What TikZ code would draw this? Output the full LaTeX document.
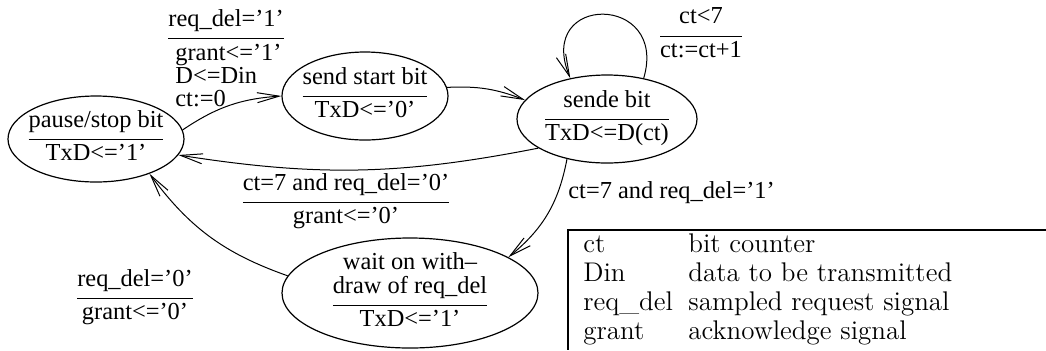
\documentclass[tikz,border=0pt]{standalone}
\usepackage{fontspec}
\newfontfamily\figfont{Liberation Serif}
\usetikzlibrary{shapes.geometric,arrows.meta}
\tikzset{
  state/.style={
    ellipse,
    draw,
    line width=0.6pt,
    inner sep=-4pt,
    font=\figfont\fontsize{12.2}{11.5}\selectfont
  },
  trans/.style={
    ->,
    >={Straight Barb[length=11pt,width=5pt]},
    line width=0.5pt
  },
  cond/.style={
    inner sep=0pt,
    font=\figfont\fontsize{12.2}{11.5}\selectfont
  },
}
% condition over action, split by a rule
\newcommand{\ioline}[2]{\begin{tabular}{@{}c@{}}#1\\[2.5pt]\hline\rule{0pt}{10.5pt}#2\end{tabular}}

\begin{document}
\begin{tikzpicture}[x=0.5pt,y=-0.5pt]
\useasboundingbox (0,0) rectangle (1046,350);

% states
\node[state, minimum width=88pt, minimum height=43pt] (pause) at (96,139) {\ioline{pause/stop bit}{TxD<=’1’}};
\node[state, minimum width=83pt, minimum height=44pt] (start) at (365,96) {\ioline{send start bit}{TxD<=’0’}};
\node[state, minimum width=90pt, minimum height=44pt] (send) at (607,119) {\ioline{sende bit}{TxD<=D(ct)}};
\node[state, minimum width=128pt, minimum height=55pt] (wait) at (410,293) {\ioline{wait on with–\\draw of req\_del}{TxD<=’1’}};

% transitions
\draw[trans] (pause.6) to[bend left=15] (start.180);
\draw[trans] (start.6) to[bend left=12] (send.167);
\draw[trans] (send.48) .. controls +(25,-85) and +(-35,-85) .. (send.132);
\draw[trans] (send.203) to[bend left=10] (pause.-11);
\draw[trans] (send.225) to[bend left=20] (wait.20);
\draw[trans] (wait.172) to[bend left=17] (pause.-33);

% transition labels
\node[cond, anchor=north west] (startcond) at (168,9) {%
  \begin{tabular}{@{\hspace{3.5pt}}l@{}}
    \multicolumn{1}{@{}c@{}}{req\_del=’1’}\\[2.5pt]\hline
    \rule{0pt}{10.5pt}grant<=’1’\\
    D<=Din\\
    ct:=0
  \end{tabular}};
\node[cond] (loopcond) at (701,36) {\ioline{ct<7}{ct:=ct+1}};
\node[cond] (backcond) at (346,202) {\ioline{ct=7 and req\_del=’0’}{grant<=’0’}};
\node[cond, anchor=west] (waitcond) at (568,193) {ct=7 and req\_del=’1’};
\node[cond] (pausecond) at (135,298) {\ioline{req\_del=’0’}{grant<=’0’}};

% signal list
\node[anchor=north west, inner xsep=7.5pt, inner ysep=1pt, font=\fontsize{13.5}{14.5}\selectfont] (legend) at (568,230) {%
  \begin{tabular}{@{}p{52.5pt}@{}l@{}}
    ct & bit counter\\
    Din & data to be transmitted\\
    req\_del & sampled request signal\\
    grant & acknowledge signal
  \end{tabular}};
\draw[line width=0.6pt] (1046,230) -- (legend.north west) -- (legend.north west |- 0,350);
\end{tikzpicture}
\end{document}
